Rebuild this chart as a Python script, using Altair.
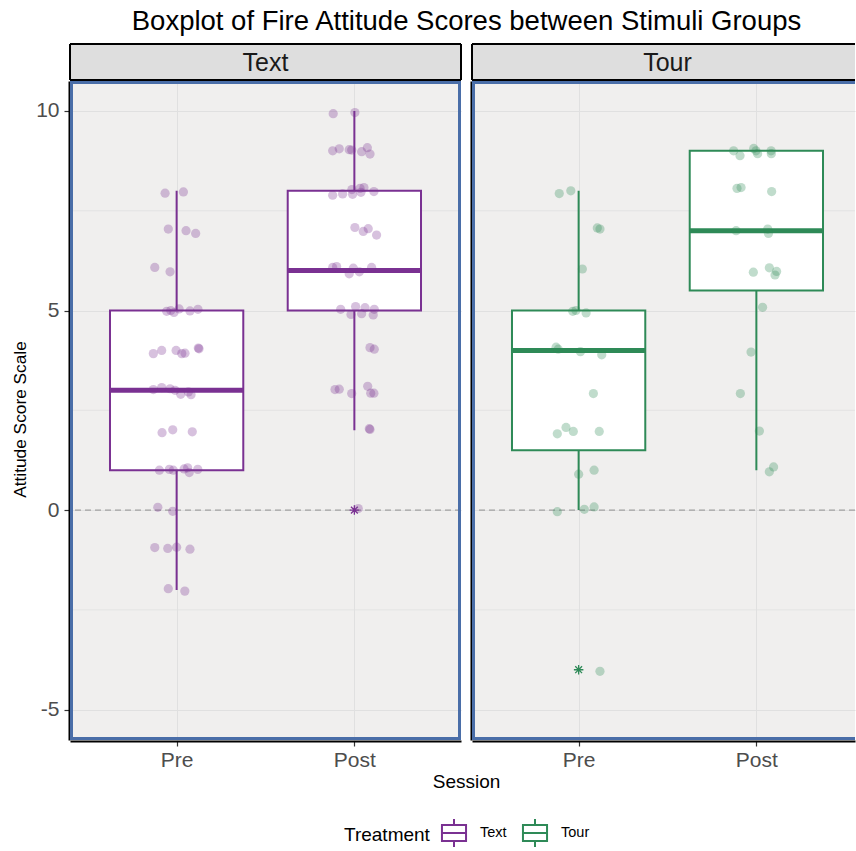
import altair as alt
import pandas as pd

# ---------------- data ----------------
sessions = ["Pre", "Post"]
treatments = ["Text", "Tour"]

# jittered points: displayed score and horizontal jitter (category units)
text_pre_score = [7.94, 7.97, 7.04, 7.00, 6.93, 6.08, 5.97, 4.98, 5.00, 4.95, 5.04, 4.99, 5.03,
                  3.92, 4.00, 4.00, 3.92, 3.93, 4.06, 4.04, 3.02, 3.07, 3.04, 3.00, 2.90, 2.96, 2.89,
                  1.94, 2.01, 1.96, 1.00, 1.02, 1.00, 1.03, 1.06, 0.94, 1.02, 0.07, -0.03,
                  -0.94, -0.96, -0.93, -0.98, -1.97, -2.03]
text_pre_jit = [-0.065, 0.038, -0.047, 0.053, 0.107, -0.123, -0.037, -0.056, -0.033, -0.015, 0.014, 0.075, 0.120,
                -0.131, -0.084, -0.003, 0.029, 0.047, 0.122, 0.126, -0.131, -0.084, -0.037, -0.009, 0.023, 0.066, 0.081,
                -0.082, -0.022, 0.088, -0.097, -0.041, -0.019, 0.042, 0.062, 0.071, 0.119, -0.106, -0.022,
                -0.123, -0.050, 0.000, 0.075, -0.047, 0.046]
text_post_score = [9.93, 9.96, 9.00, 9.05, 9.03, 9.02, 8.98, 9.08, 8.92, 7.89, 7.92, 8.03, 7.91, 8.06, 7.96, 8.08, 7.98,
                   7.08, 6.98, 7.05, 6.89, 6.08, 6.10, 5.92, 6.06, 5.97, 6.08, 5.03, 4.90, 5.10, 4.92, 5.07, 4.89, 5.03,
                   4.07, 4.03, 3.02, 3.03, 2.92, 3.10, 2.93, 2.93, 2.04, 2.02, 0.04]
text_post_jit = [-0.119, 0.003, -0.122, -0.085, -0.029, -0.015, 0.041, 0.073, 0.088, -0.122, -0.066, -0.014, -0.010,
                 0.032, 0.037, 0.054, 0.110, 0.003, 0.050, 0.078, 0.125, -0.122, -0.100, -0.029, -0.006, 0.028, 0.097,
                 -0.077, -0.019, 0.007, 0.041, 0.060, 0.106, 0.112, 0.088, 0.112, -0.109, -0.085, -0.015, 0.075, 0.092,
                 0.110, 0.084, 0.088, 0.022]
tour_pre_score = [7.93, 8.00, 7.07, 7.04, 6.04, 4.98, 5.00, 4.94, 4.08, 4.03, 3.97, 3.89, 2.92, 1.91, 2.07, 1.97,
                  1.97, 0.90, 1.00, -0.04, 0.02, 0.08, -4.04]
tour_pre_jit = [-0.109, -0.044, 0.105, 0.120, 0.021, -0.033, -0.015, 0.042, -0.127, -0.115, 0.010, 0.130, 0.083,
                -0.120, -0.071, -0.030, 0.116, 0.000, 0.087, -0.120, 0.032, 0.087, 0.120]
tour_post_score = [9.00, 8.88, 9.06, 9.00, 8.93, 9.00, 8.93, 8.06, 8.08, 7.98, 7.00, 7.04, 6.93, 5.96, 6.07, 5.89,
                   5.98, 5.08, 3.96, 2.92, 1.98, 0.96, 1.08]
tour_post_jit = [-0.128, -0.092, -0.015, -0.002, 0.007, 0.083, 0.084, -0.109, -0.086, 0.086, -0.114, 0.064, 0.068,
                 -0.017, 0.073, 0.105, 0.114, 0.035, -0.030, -0.090, 0.017, 0.073, 0.097]

# box statistics
box_treatment = ["Text", "Text", "Tour", "Tour"]
box_session = ["Pre", "Post", "Pre", "Post"]
box_lower = [-2, 2, 0, 1]
box_q1 = [1, 5, 1.5, 5.5]
box_median = [3, 6, 4, 7]
box_q3 = [5, 8, 5, 9]
box_upper = [8, 10, 8, 9]

# outliers
out_treatment = ["Text", "Tour"]
out_session = ["Post", "Pre"]
out_value = [0, -4]

# ---------------- tables ----------------
sess_index = {s: i + 1 for i, s in enumerate(sessions)}
rows = []
for treat, sess, sc, jt in [("Text", "Pre", text_pre_score, text_pre_jit),
                            ("Text", "Post", text_post_score, text_post_jit),
                            ("Tour", "Pre", tour_pre_score, tour_pre_jit),
                            ("Tour", "Post", tour_post_score, tour_post_jit)]:
    for s, j in zip(sc, jt):
        rows.append({"treatment": treat, "session": sess, "score": s,
                     "pos": sess_index[sess] + j})
points = pd.DataFrame(rows)

boxes = pd.DataFrame({"treatment": box_treatment, "session": box_session,
                      "lower": box_lower, "q1": box_q1, "median": box_median,
                      "q3": box_q3, "upper": box_upper})
boxes["pos"] = boxes["session"].map(sess_index)
boxes["left"] = boxes["pos"] - 0.375
boxes["right"] = boxes["pos"] + 0.375

outs = pd.DataFrame({"treatment": out_treatment, "session": out_session, "value": out_value})
outs["pos"] = outs["session"].map(sess_index)

minor_grid = pd.DataFrame({"v": [-2.5, 2.5, 7.5]})
zero_line = pd.DataFrame({"v": [0]})
one = pd.DataFrame({"a": [0]})

# ---------------- styling ----------------
FONT = "Liberation Sans"
COLORS = {"Text": "#7a3192", "Tour": "#2e8a57"}
BLUE = "#4a6ea8"
GRID = "#e0e0e0"
H = 659
W_LEFT = 391
W_RIGHT = 383
STEP = W_LEFT / 2.2
YDOM = [-5.76, 10.75]
ASTERISK = "M-1,0L1,0M0,-1L0,1M-0.72,-0.72L0.72,0.72M-0.72,0.72L0.72,-0.72"
BOXGLYPH = ("M0,-1L0,-0.57M-0.86,-0.57L0.86,-0.57L0.86,0.57L-0.86,0.57Z"
            "M-0.86,0L0.86,0M0,0.57L0,1")

cscale = alt.Scale(domain=treatments, range=[COLORS[t] for t in treatments])
legend = alt.Legend(orient="none", legendX=274, legendY=737, direction="horizontal",
                    titleOrient="left", title="Treatment", symbolType=BOXGLYPH,
                    symbolSize=784, symbolStrokeWidth=2, symbolFillColor="white",
                    labelFontSize=14.5, titleFontSize=19, labelColor="black",
                    titleColor="black", titleFontWeight="normal", columnPadding=11,
                    labelOffset=11, titlePadding=9)


def panel(treat, width, first):
    color = COLORS[treat]
    xs = alt.Scale(domain=[0.4, 0.4 + width / STEP], nice=False, zero=False)
    ys = alt.Scale(domain=YDOM, nice=False, zero=False)
    xaxis = alt.Axis(values=[1, 2], labelExpr="datum.value == 1 ? 'Pre' : 'Post'",
                     grid=True, gridColor=GRID, gridWidth=1, domainColor="black",
                     domainWidth=2, offset=1, tickColor="#333333", tickSize=5, tickWidth=1.2,
                     labelFontSize=21, labelColor="#4d4d4d", labelPadding=3,
                     labelFlush=False,
                     title="Session" if first else "", titleFontSize=19,
                     titleColor="black", titleFontWeight="normal",
                     titleX=396, titleY=46, titleBaseline="alphabetic", titleAnchor="middle")
    if first:
        yaxis = alt.Axis(values=[-5, 0, 5, 10], labelExpr="toString(datum.value)",
                         grid=True, gridColor=GRID, gridWidth=1,
                         domainColor="black", domainWidth=2, offset=1,
                         tickColor="#333333", tickSize=5, tickWidth=1.2,
                         labelFontSize=21, labelColor="#4d4d4d", labelPadding=5,
                         title="Attitude Score Scale", titleFontSize=17.3,
                         titleColor="black", titleFontWeight="normal",
                         titleX=-40, titleY=338, titleAnchor="middle")
    else:
        yaxis = alt.Axis(values=[-5, 0, 5, 10], grid=True, gridColor=GRID, gridWidth=1,
                         domainColor="black", domainWidth=2, offset=1,
                         ticks=False, labels=False, title="")

    def X(f):
        return alt.X(f, type="quantitative", scale=xs, axis=xaxis)

    def Y(f):
        return alt.Y(f, type="quantitative", scale=ys, axis=yaxis)

    pts = points[points.treatment == treat]
    bx = boxes[boxes.treatment == treat]
    ot = outs[outs.treatment == treat]

    minor = alt.Chart(minor_grid).mark_rule(color=GRID, strokeWidth=0.8).encode(y=Y("v"))
    zero = alt.Chart(zero_line).mark_rule(color="#8f8f8f", strokeWidth=1,
                                          strokeDash=[6, 4]).encode(y=Y("v"))
    whisk = alt.Chart(bx).mark_rule(color=color, strokeWidth=2).encode(
        x=X("pos"), y=Y("lower"), y2="upper")
    box = alt.Chart(bx).mark_rect(fill="white", strokeWidth=2).encode(
        x=X("left"), x2="right", y=Y("q1"), y2="q3",
        stroke=alt.Stroke("treatment:N", scale=cscale, legend=legend))
    med = alt.Chart(bx).mark_rule(color=color, strokeWidth=5).encode(
        x=X("left"), x2="right", y=Y("median"))
    dots = alt.Chart(pts).mark_circle(color=color, opacity=0.3, size=85).encode(
        x=X("pos"), y=Y("score"))
    star = alt.Chart(ot).mark_point(shape=ASTERISK, filled=False, color=color,
                                    strokeWidth=1.3, size=90, opacity=1).encode(
        x=X("pos"), y=Y("value"))
    x2_border = width - 1.5 if first else width + 10
    border = alt.Chart(one).mark_rect(fill="transparent", stroke=BLUE, strokeWidth=3,
                                      clip=not first).encode(
        x=alt.value(1.5), x2=alt.value(x2_border), y=alt.value(1.5), y2=alt.value(H - 1.5))
    head_fill = alt.Chart(one).mark_rect(fill="#dedede").encode(
        x=alt.value(0), x2=alt.value(width), y=alt.value(-37), y2=alt.value(-1))
    head_top = alt.Chart(one).mark_rule(color="black", strokeWidth=2).encode(
        x=alt.value(0), x2=alt.value(width), y=alt.value(-37))
    head_bot = alt.Chart(one).mark_rule(color="black", strokeWidth=2).encode(
        x=alt.value(0), x2=alt.value(width), y=alt.value(-1))
    head_left = alt.Chart(one).mark_rule(color="black", strokeWidth=2).encode(
        x=alt.value(0), y=alt.value(-37), y2=alt.value(-1))
    head_text = alt.Chart(one).mark_text(text=treat, fontSize=25, color="#1a1a1a",
                                         baseline="middle", align="center").encode(
        x=alt.value(W_LEFT / 2), y=alt.value(-18))
    layers = [minor, zero, whisk, box, med, dots, star, border,
              head_fill, head_top, head_bot, head_left]
    if first:
        head_right = alt.Chart(one).mark_rule(color="black", strokeWidth=2).encode(
            x=alt.value(width), y=alt.value(-37), y2=alt.value(-1))
        layers.append(head_right)
    layers.append(head_text)
    return alt.layer(*layers).properties(width=width, height=H)


chart = alt.hconcat(panel("Text", W_LEFT, True), panel("Tour", W_RIGHT, False),
                    spacing=11, bounds="flush").properties(
    title=alt.TitleParams("Boxplot of Fire Attitude Scores between Stimuli Groups",
                          fontSize=27.5, font=FONT, color="black", fontWeight="normal",
                          anchor="middle", frame="bounds", dx=33, offset=8),
    padding={"left": 11, "top": 7, "right": 0, "bottom": 4},
).configure(font=FONT).configure_view(fill="#f0efee", stroke=None)

chart.save("out.html", embed_options={"renderer": "svg", "actions": False})
